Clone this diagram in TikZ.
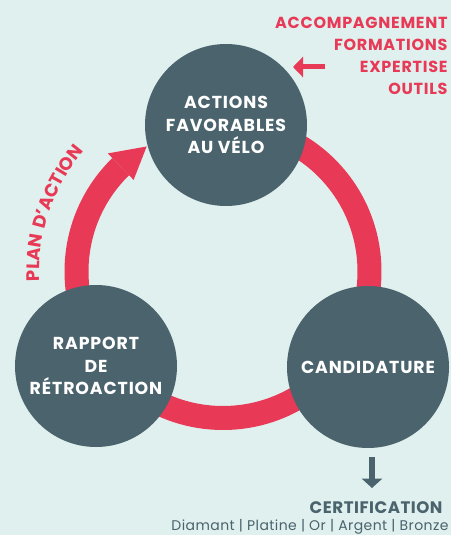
\documentclass[tikz,border=0pt]{standalone}
\usepackage{fontspec}
\setmainfont{Poppins}
\usetikzlibrary{arrows.meta,decorations.text}
\definecolor{mintbg}{HTML}{DFF0EE}
\definecolor{slate}{HTML}{4A636C}
\definecolor{cyclered}{HTML}{E83956}
\tikzset{every picture/.style={line width=0.75pt}}
\tikzset{
  stage/.style={circle, fill=slate, text=white, minimum size=121.5pt, inner sep=0pt, align=center, font=\fontsize{13}{17}\selectfont\bfseries\addfontfeatures{LetterSpace=5}},
  ringband/.style={draw=cyclered, line width=18pt},
  redtext/.style={text=cyclered, inner sep=0pt, align=right, font=\fontsize{12}{16.5}\selectfont\bfseries\addfontfeatures{LetterSpace=4.5}},
  slatetext/.style={text=slate, inner sep=0pt},
}
\newcommand{\planfont}{\fontsize{13.5}{16}\selectfont\bfseries\addfontfeatures{LetterSpace=6}\color{cyclered}}

\begin{document}
\begin{tikzpicture}[x=0.75pt,y=0.75pt,yscale=-1,xscale=1]
\useasboundingbox[fill=mintbg] (0,0) rectangle (451,535);

\coordinate (ringc) at (223,271.5);
%Arc: cycle ring
\draw[ringband] (ringc) ++(225.7:146.5) arc[start angle=225.7, end angle=-70, radius=146.5];
%Shape: arrow head on the ring
\path (ringc) ++(225.7:165) coordinate (headout);
\path (ringc) ++(225.7:128) coordinate (headin);
\path (ringc) ++(238.6:146.5) coordinate (headtip);
\fill[cyclered] (headout) -- (headtip) -- (headin) -- cycle ;

%Shape: Circle
\node[stage] (actions) at (226,125) {ACTIONS\\FAVORABLES\\AU VÉLO};
%Shape: Circle
\node[stage] (rapport) at (96,366) {RAPPORT\\DE\\RÉTROACTION};
%Shape: Circle
\node[stage] (candidature) at (368,367) {CANDIDATURE};

% Text along the ring
\path (ringc) ++(164:183.5) coordinate (planstart);
\path[decorate, decoration={text along path, text align=center, text={|\planfont|PLAN D’ACTION}}] (planstart) arc[start angle=164, end angle=234, radius=183.5];

% Text Node
\node[redtext, anchor=east] (support) at (448,56) {ACCOMPAGNEMENT\\FORMATIONS\\EXPERTISE\\OUTILS};
%Straight Lines
\coordinate (suptail) at (325,67);
\coordinate (suptip) at (293,67);
\draw[cyclered, line width=3.75pt, -{Triangle[length=7.5pt,width=15pt]}] (suptail) -- (suptip);

%Straight Lines
\coordinate (certtail) at (372,457);
\coordinate (certtip) at (372,488);
\draw[slate, line width=4.5pt, -{Triangle[length=7pt,width=15pt]}] (certtail) -- (certtip);
% Text Node
\node[slatetext, anchor=east, font=\fontsize{12.5}{14}\selectfont\bfseries\addfontfeatures{LetterSpace=3}] (certif) at (443,508) {CERTIFICATION};
% Text Node
\node[slatetext, anchor=east, font=\fontsize{10.5}{12}\selectfont\addfontfeatures{LetterSpace=3}] (metals) at (449,527) {Diamant | Platine | Or | Argent | Bronze};

\end{tikzpicture}
\end{document}
